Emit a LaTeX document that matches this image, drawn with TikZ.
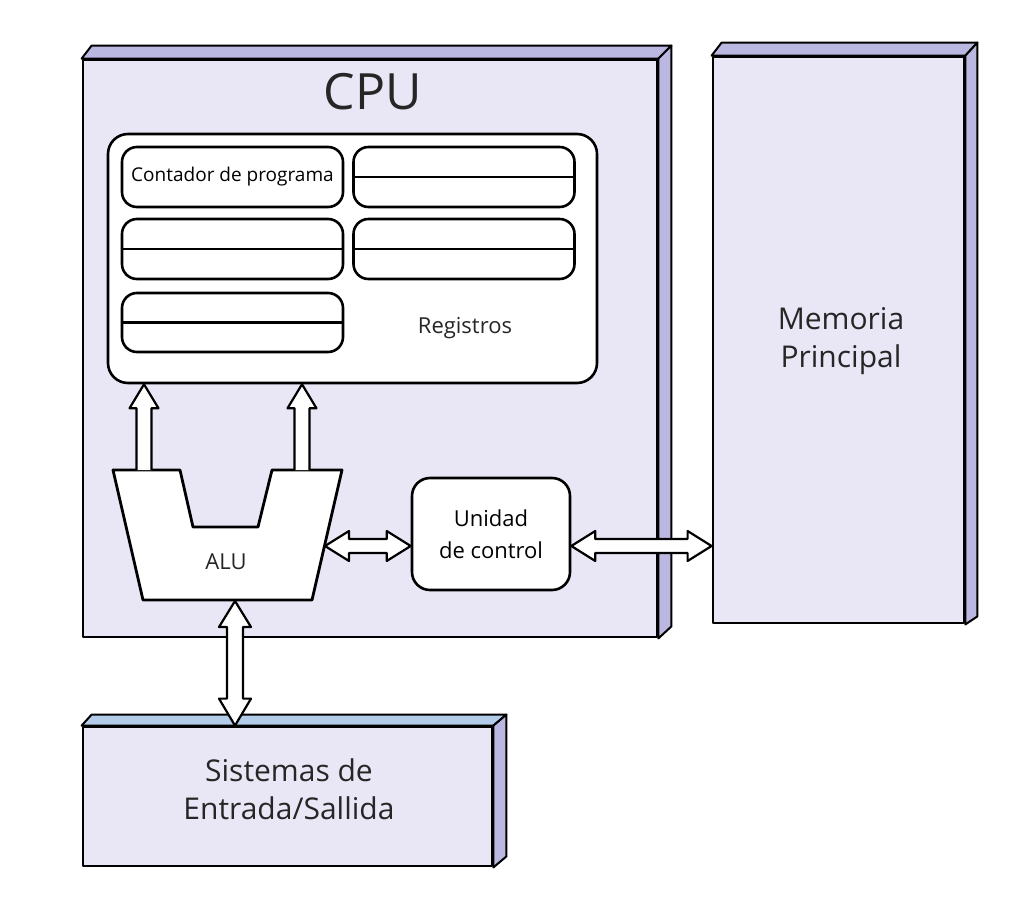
\documentclass[tikz,border=0pt]{standalone}
\usepackage{fontspec}
\setmainfont{Open Sans}
\usetikzlibrary{calc}
\definecolor{facecol}{HTML}{E9E7F5}
\definecolor{bevcol}{HTML}{BAB7E0}
\definecolor{bevblue}{HTML}{B2CCEA}
\begin{document}
\begin{tikzpicture}[x=1pt,y=-1pt,line join=round,
  boxface/.style={draw,line width=2.8pt,fill=facecol,inner sep=0pt},
  bevel/.style={draw,line width=2pt,fill=bevcol},
  regouter/.style={draw,line width=2.6pt,fill=white,rounded corners=20pt,inner sep=0pt,minimum width=489pt,minimum height=249pt},
  regcell/.style={draw,line width=2.6pt,fill=white,rounded corners=15pt,inner sep=0pt,minimum width=221pt,minimum height=60pt},
  ucbox/.style={draw,line width=2.6pt,fill=white,rounded corners=18pt,inner sep=0pt,minimum width=158pt,minimum height=112pt},
  hollow/.style={draw,line width=2.2pt,fill=white},
  lbl/.style={inner sep=0pt,align=center,text=black!85}]
\useasboundingbox[fill=white] (0,0) rectangle (1024,909);

% CPU
\node[boxface,minimum width=574pt,minimum height=577pt] (cpu) at (370,348.5) {};
\draw[bevel] (cpu.north west) -- ++(10,-13) -- ($(cpu.north east)+(13,-13)$) -- (cpu.north east) -- cycle;
\draw[bevel] (cpu.north east) -- ++(13,-13) -- ($(cpu.south east)+(13,-12)$) -- (cpu.south east) -- cycle;
\node[lbl,font=\fontsize{50}{60}\selectfont] (cpulbl) at (373,92) {CPU};

% Memoria
\node[boxface,minimum width=251pt,minimum height=566pt] (mem) at (838.5,340) {};
\draw[bevel] (mem.north west) -- ++(10,-13) -- ($(mem.north east)+(12,-13)$) -- (mem.north east) -- cycle;
\draw[bevel] (mem.north east) -- ++(12,-13) -- ($(mem.south east)+(12,-8)$) -- (mem.south east) -- cycle;
\node[lbl,font=\fontsize{30}{38}\selectfont] (memlbl) at (841,341) {Memoria\\Principal};

% Sistemas
\node[boxface,minimum width=409pt,minimum height=139pt] (io) at (287.5,796.5) {};
\draw[bevel,fill=bevblue] (io.north west) -- ++(10,-11) -- ($(io.north east)+(13,-11)$) -- (io.north east) -- cycle;
\draw[bevel] (io.north east) -- ++(13,-11) -- ($(io.south east)+(13,-11)$) -- (io.south east) -- cycle;
\node[lbl,font=\fontsize{30}{38}\selectfont] (iolbl) at (289,789) {Sistemas de\\Entrada/Sallida};

% Registros
\node[regouter] (reg) at (352.5,258.5) {};
\node[regcell,font=\fontsize{19}{22}\selectfont] (pc) at (232.5,177) {Contador de programa};
\node[regcell] (r1) at (464,177) {};
\node[regcell] (r2) at (232.5,249) {};
\node[regcell] (r3) at (464,249) {};
\node[regcell,minimum height=59pt] (r4) at (232.5,322.5) {};
\foreach \r in {r1,r2,r3,r4} \draw[line width=2.6pt] (\r.west) -- (\r.east);
\node[lbl,font=\fontsize{22}{26}\selectfont] (reglbl) at (465,328) {Registros};

% ALU
\draw[line width=2.8pt,fill=white] (113,470) -- (180,470) -- (193,527) -- (258,527) -- (272,470) -- (342,470) -- (312,600) -- (143,600) -- cycle;
\node[lbl,font=\fontsize{22}{26}\selectfont] (alu) at (226,562) {ALU};
\coordinate (aluL) at (144,470);
\coordinate (aluR) at (302,470);
\coordinate (aluE) at (325,546);
\coordinate (aluS) at (235,601);

% Unidad de control
\node[ucbox,font=\fontsize{22}{32}\selectfont,align=center] (uc) at (491,534) {Unidad\\de control};

% arrows ALU -> registros
\foreach \c in {aluL,aluR}
  \draw[hollow] ($(\c)+(-7.5,0)$) -- ($(\c|-reg.south)+(-7.5,24)$) -- ++(-7,0) -- (\c|-reg.south) -- ++(14.5,24) -- ++(-7,0) -- ($(\c)+(7.5,0)$);

% ALU <-> Unidad
\coordinate (ucW) at (uc.west|-aluE);
\coordinate (ucE) at (uc.east|-aluE);
\coordinate (memW) at (mem.west|-aluE);
\draw[hollow] (aluE) -- ++(24,-15) -- ++(0,8) -- ($(ucW)+(-24,-7)$) -- ++(0,-8) -- (ucW) -- ++(-24,15) -- ++(0,-8) -- ($(aluE)+(24,7)$) -- ++(0,8) -- cycle;
\draw[hollow] (ucE) -- ++(24,-15) -- ++(0,8) -- ($(memW)+(-24,-7)$) -- ++(0,-8) -- (memW) -- ++(-24,15) -- ++(0,-8) -- ($(ucE)+(24,7)$) -- ++(0,8) -- cycle;

% ALU <-> Sistemas
\coordinate (ioN) at (io.north-|aluS);
\draw[hollow] (aluS) -- ++(-16,26) -- ++(8,0) -- ($(ioN)+(-8,-27)$) -- ++(-8,0) -- (ioN) -- ++(16,-27) -- ++(-8,0) -- ($(aluS)+(8,26)$) -- ++(8,0) -- cycle;
\end{tikzpicture}
\end{document}
